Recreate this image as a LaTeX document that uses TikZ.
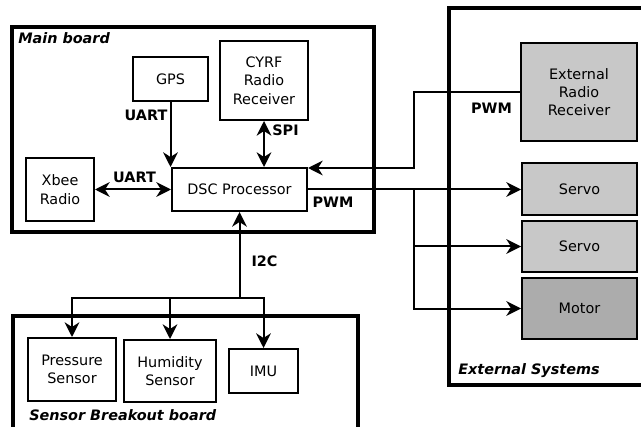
\documentclass[tikz,border=0pt]{standalone}
\usepackage{fontspec}
\setmainfont{DejaVu Sans}[
    ItalicFont={DejaVu Sans Oblique},
    BoldFont={DejaVu Sans Bold},
    BoldItalicFont={DejaVu Sans Bold Oblique}
]
\usetikzlibrary{
    arrows.meta,
    positioning,
    calc
}
\definecolor{extgray}{RGB}{200,200,200}
\definecolor{motorgray}{RGB}{172,172,172}
\newcommand{\diagfont}{\fontsize{10.8}{13.7}\selectfont}
\tikzset{
    board/.style={draw,line width=3pt},
    boardname/.style={font=\diagfont\bfseries\itshape,anchor=base west,inner sep=0pt},
    block/.style={draw,line width=1.5pt,align=center,inner sep=0pt,font=\diagfont},
    extblock/.style={block,fill=extgray},
    link/.style={line width=1.5pt},
    buslabel/.style={font=\diagfont\bfseries,inner sep=0pt}
}

\begin{document}
\begin{tikzpicture}[
        x=0.75pt,
        y=-0.75pt,
        >={Stealth[length=11pt,width=11pt,inset=3.5pt]}
    ]
        \clip (0,0) rectangle (641,427);

        % the three boards
        \draw[board] (12,27) rectangle (374,232);
        \draw[board] (449,8) rectangle (660,385);
        \draw[board] (13,316) rectangle (358,440);

        \node[boardname] (mainname) at (18,44)  {Main board};
        \node[boardname] (extname)  at (458,374) {External Systems};
        \node[boardname] (sensname) at (29,420) {Sensor Breakout board};

        % main board blocks
        \node[block,minimum width=56.25pt,minimum height=33pt]
            (GPS) at (170.5,79) {GPS};
        \node[block,minimum width=66pt,minimum height=59.25pt]
            (CYRF) at (264,80.5) {CYRF\\Radio\\Receiver};
        \node[block,minimum width=51pt,minimum height=47.25pt]
            (Xbee) at (60,189.5) {Xbee\\Radio};
        \node[block,minimum width=101.25pt,minimum height=32.25pt]
            (DSC) at (239.5,189.5) {DSC Processor};

        % external systems
        \node[extblock,minimum width=87pt,minimum height=73.5pt]
            (ExtRadio) at (579,92) {External\\Radio\\Receiver};
        \node[extblock,minimum width=86.25pt,minimum height=39pt]
            (Servo1) at (579.5,189.5) {Servo};
        \node[extblock,minimum width=86.25pt,minimum height=38.25pt]
            (Servo2) at (579.5,246.5) {Servo};
        \node[extblock,fill=motorgray,minimum width=86.25pt,minimum height=45.75pt]
            (Motor) at (579.5,308.5) {Motor};

        % sensor breakout blocks
        \node[block,minimum width=66pt,minimum height=47.25pt]
            (Pressure) at (72,369.5) {Pressure\\Sensor};
        \node[block,minimum width=69pt,minimum height=46.5pt]
            (Humidity) at (170,371) {Humidity\\Sensor};
        \node[block,minimum width=51.75pt,minimum height=33pt]
            (IMU) at (263.5,371) {IMU};

        % bend and split points
        \coordinate (rxbend)   at (414,168);
        \coordinate (pwmsplit) at (414,189.5);
        \coordinate (i2c)      at (239.5,298);

        % main board links
        \draw[link,->]  (GPS.south) -- (GPS.south |- DSC.north);
        \draw[link,<->] (CYRF.south) -- (CYRF.south |- DSC.north);
        \draw[link,<->] (Xbee.east) -- (DSC.west);

        % radio in, pwm out
        \draw[link,->] (ExtRadio.west) -| (rxbend) -- (DSC.east |- rxbend);
        \draw[link,->] (DSC.east) -- (DSC.east -| Servo1.west);
        \draw[link,->] (pwmsplit) |- (Servo2.west);
        \draw[link,->] (pwmsplit) |- (Motor.west);

        % i2c bus
        \draw[link,->] (i2c) -- (DSC.south);
        \draw[link,->] (i2c) -| (Pressure.north);
        \draw[link,->] (Humidity.north |- i2c) -- (Humidity.north);
        \draw[link,->] (i2c) -| (IMU.north);

        % bus labels
        \node[buslabel] (uartgps)  at (146,115.5)   {UART};
        \node[buslabel] (uartxbee) at (134.5,177.5) {UART};
        \node[buslabel] (spi)      at (285.5,130.5) {SPI};
        \node[buslabel] (pwmout)   at (333,202)     {PWM};
        \node[buslabel] (pwmin)    at (491.5,108.5) {PWM};
        \node[buslabel] (i2clabel) at (264.5,261.5) {I2C};

    \end{tikzpicture}
\end{document}
